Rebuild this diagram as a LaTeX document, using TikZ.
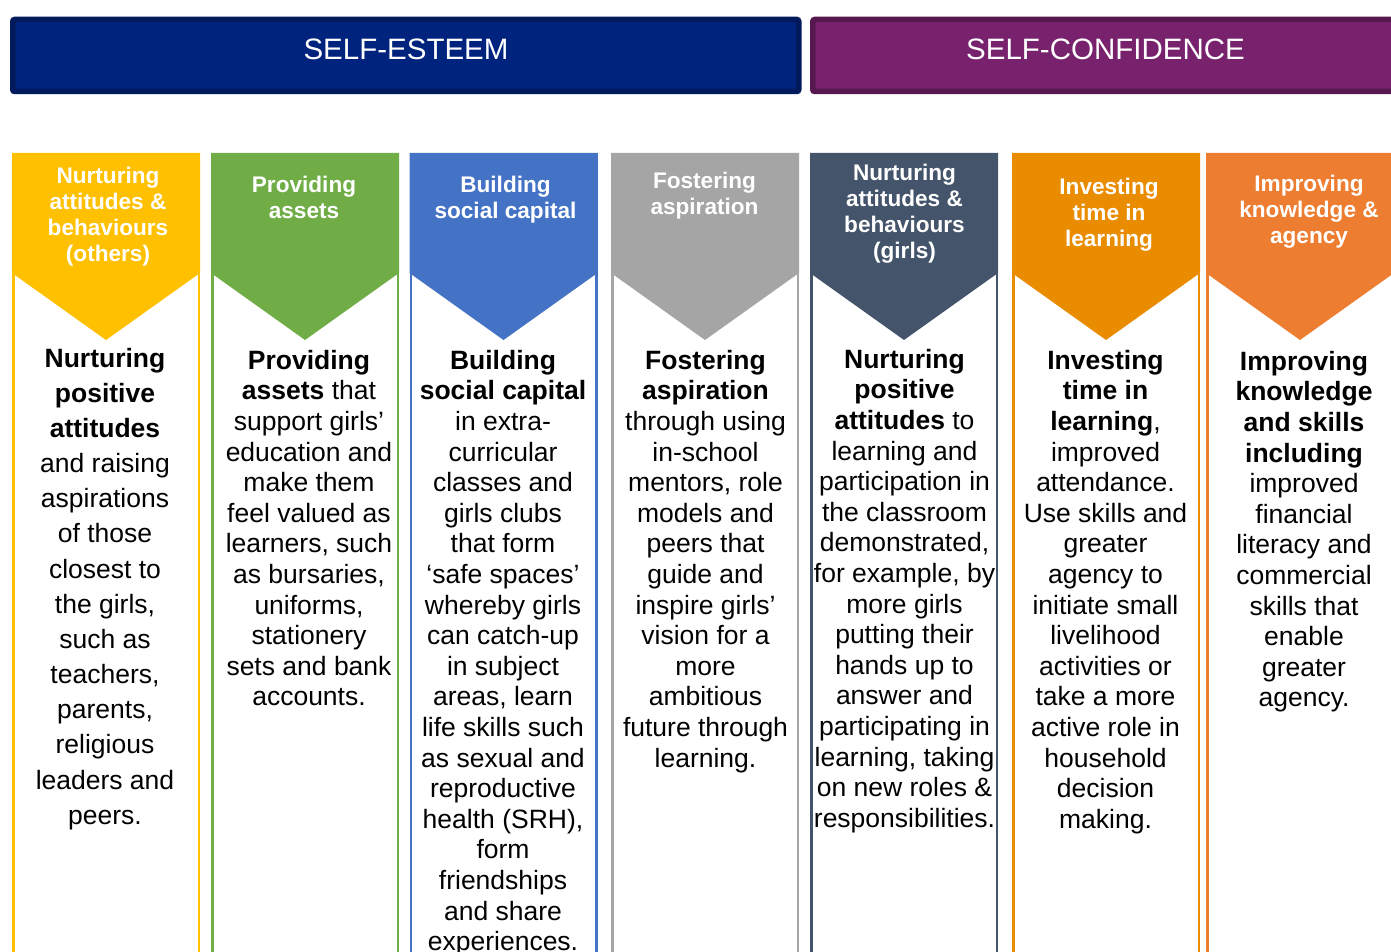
\documentclass[tikz,border=0pt]{standalone}
\usepackage{fontspec}
\setmainfont{Liberation Sans}
\definecolor{esteemfill}{HTML}{00237E}
\definecolor{esteemline}{HTML}{001A5C}
\definecolor{conffill}{HTML}{78226E}
\definecolor{confline}{HTML}{57184F}
\definecolor{cyellow}{HTML}{FFC000}
\definecolor{cgreen}{HTML}{70AD47}
\definecolor{cblue}{HTML}{4472C4}
\definecolor{cgray}{HTML}{A5A5A5}
\definecolor{cslate}{HTML}{44546A}
\definecolor{corange}{HTML}{EA8C00}
\definecolor{corangeb}{HTML}{ED7D31}
\tikzset{
  barbox/.style={line width=5.5pt, rounded corners=2pt},
  bartext/.style={text=white, font=\fontsize{29.5}{34}\selectfont, inner sep=0pt, anchor=base},
  hdrtext/.style={text=white, align=center, inner sep=0pt, anchor=north, font=\fontsize{22.6}{26}\selectfont\bfseries},
  bodytext/.style={text=black, align=center, inner sep=0pt, anchor=north, font=\fontsize{26.5}{30.6}\selectfont},
  bodywide/.style={text=black, align=center, inner sep=0pt, anchor=north, font=\fontsize{26.5}{35.15}\selectfont},
  colborder/.style={line width=2.5pt}
}
\begin{document}
\begin{tikzpicture}[x=1pt,y=-1pt]
\useasboundingbox (0,0) rectangle (1391,952);
\clip (0,0) rectangle (1391,952);
\fill[white] (0,0) rectangle (1391,952);
% top bars
\draw[barbox, draw=esteemline, fill=esteemfill] (12.75,19.5) rectangle (798.75,91.5);
\draw[barbox, draw=confline, fill=conffill] (812.75,19.5) rectangle (1420,91.5);
\node[bartext] (esteem) at (406,59.3) {SELF-ESTEEM};
\node[bartext] (conf) at (1105.5,59.3) {SELF-CONFIDENCE};
% columns
\foreach \L/\c in {12/cyellow, 211/cgreen, 409.5/cblue, 611/cgray, 810/cslate, 1012/corange, 1206/corangeb}{
  \fill[\c] (\L,153) -- ++(188,0) -- ++(0,120) -- ++(-94,67) -- ++(-94,-67) -- cycle;
  \draw[\c, colborder] (\L+1.25,154.25) rectangle ++(185.5,830);
}
% header labels
\node[hdrtext] (h1) at (108,165.1) {\strut Nurturing\\attitudes \&\\behaviours\\(others)};
\node[hdrtext] (h2) at (304,174.1) {\strut Providing\\assets};
\node[hdrtext] (h3) at (505.5,174.1) {\strut Building\\social capital};
\node[hdrtext] (h4) at (704.5,170.1) {\strut Fostering\\aspiration};
\node[hdrtext] (h5) at (904.5,162.5) {\strut Nurturing\\attitudes \&\\behaviours\\(girls)};
\node[hdrtext] (h6) at (1109,175.8) {\strut Investing\\time in\\learning};
\node[hdrtext] (h7) at (1309,173.5) {\strut Improving\\knowledge \&\\agency};
% body texts
\node[bodywide] (b1) at (105,342.4) {\strut\textbf{Nurturing}\\\textbf{positive}\\\textbf{attitudes}\\and raising\\aspirations\\of those\\closest to\\the girls,\\such as\\teachers,\\parents,\\religious\\leaders and\\peers.};
\node[bodytext] (b2) at (309,347.6) {\strut\textbf{Providing}\\\textbf{assets} that\\support girls’\\education and\\make them\\feel valued as\\learners, such\\as bursaries,\\uniforms,\\stationery\\sets and bank\\accounts.};
\node[bodytext] (b3) at (503,347.6) {\strut\textbf{Building}\\\textbf{social capital}\\in extra-\\curricular\\classes and\\girls clubs\\that form\\‘safe spaces’\\whereby girls\\can catch-up\\in subject\\areas, learn\\life skills such\\as sexual and\\reproductive\\health (SRH),\\form\\friendships\\and share\\experiences.};
\node[bodytext] (b4) at (705.5,347.6) {\strut\textbf{Fostering}\\\textbf{aspiration}\\through using\\in-school\\mentors, role\\models and\\peers that\\guide and\\inspire girls’\\vision for a\\more\\ambitious\\future through\\learning.};
\node[bodytext] (b5) at (904.5,346.6) {\strut\textbf{Nurturing}\\\textbf{positive}\\\textbf{attitudes} to\\learning and\\participation in\\the classroom\\demonstrated,\\for example, by\\more girls\\putting their\\hands up to\\answer and\\participating in\\learning, taking\\on new roles \&\\responsibilities.};
\node[bodytext] (b6) at (1105.5,347.6) {\strut\textbf{Investing}\\\textbf{time in}\\\textbf{learning},\\improved\\attendance.\\Use skills and\\greater\\agency to\\initiate small\\livelihood\\activities or\\take a more\\active role in\\household\\decision\\making.};
\node[bodytext] (b7) at (1304,348.6) {\strut\textbf{Improving}\\\textbf{knowledge}\\\textbf{and skills}\\\textbf{including}\\improved\\financial\\literacy and\\commercial\\skills that\\enable\\greater\\agency.};
\end{tikzpicture}
\end{document}
